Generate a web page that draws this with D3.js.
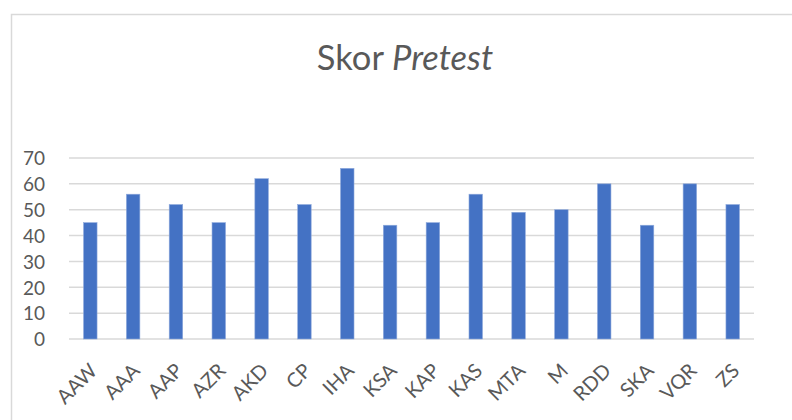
<!DOCTYPE html>
<html>
<head>
<meta charset="utf-8">
<script src="https://cdn.jsdelivr.net/npm/d3@7"></script>
<style>
  body { margin: 0; background: #fff; }
  svg { display: block; font-family: Lato, "Open Sans", sans-serif; }
</style>
</head>
<body>
<div id="chart"></div>
<script>
const names = ["AAW", "AAA", "AAP", "AZR", "AKD", "CP", "IHA", "KSA", "KAP", "KAS", "MTA", "M", "RDD", "SKA", "VQR", "ZS"];
const scores = [45, 56, 52, 45, 62, 52, 66, 44, 45, 56, 49, 50, 60, 44, 60, 52];
const yTicks = [0, 10, 20, 30, 40, 50, 60, 70];

const width = 792, height = 420;
const margin = {top: 158, right: 38, bottom: 81, left: 69};

const svg = d3.select("#chart").append("svg")
  .attr("width", width)
  .attr("height", height);

// chart frame
svg.append("rect")
  .attr("x", 11.5).attr("y", 14.5)
  .attr("width", 800).attr("height", 420)
  .attr("fill", "none")
  .attr("stroke", "#d9d9d9")
  .attr("stroke-width", 1.5);

let title = svg.append("text")
  .attr("x", 405).attr("y", 70)
  .attr("text-anchor", "middle")
  .attr("fill", "#595959")
  .style("font-size", "34.5px");
title.append("tspan").text("Skor ");
title.append("tspan").style("font-style", "italic").text("Pretest");

let x = d3.scaleBand()
  .domain(names)
  .range([margin.left, width - margin.right])
  .paddingInner(0.685)
  .paddingOuter(0.34);

let y = d3.scaleLinear()
  .domain([0, 70])
  .range([height - margin.bottom, margin.top]);

// gridlines
svg.append("g")
  .selectAll("line")
  .data(yTicks)
  .enter().append("line")
  .attr("x1", margin.left)
  .attr("x2", width - margin.right)
  .attr("y1", d => y(d))
  .attr("y2", d => y(d))
  .attr("stroke", "#d9d9d9")
  .attr("stroke-width", 1.5);

let yAxis = svg.append("g")
  .attr("transform", "translate(" + (margin.left - 24) + ",0)")
  .call(d3.axisLeft(y).tickValues(yTicks).tickSize(0).tickPadding(0));
yAxis.select(".domain").remove();
yAxis.selectAll("text")
  .attr("fill", "#595959")
  .attr("dy", "0.36em")
  .style("font-size", "19px")
  .style("font-family", "Lato, sans-serif");

svg.append("g")
  .selectAll("rect")
  .data(names)
  .enter().append("rect")
  .attr("x", d => x(d))
  .attr("width", x.bandwidth())
  .attr("y", (d, i) => y(scores[i]))
  .attr("height", (d, i) => y(0) - y(scores[i]))
  .attr("fill", "#4472c4")
  .attr("stroke", "#8faadc")
  .attr("stroke-width", 0.6);

let xAxis = svg.append("g")
  .attr("transform", "translate(0," + y(0) + ")")
  .call(d3.axisBottom(x).tickSize(0).tickPadding(0));
xAxis.select(".domain").remove();
xAxis.selectAll("text")
  .attr("fill", "#595959")
  .attr("text-anchor", "end")
  .attr("dy", 0)
  .attr("transform", "translate(8,33) rotate(-45)")
  .style("font-size", "20px")
  .style("font-family", "Lato, sans-serif");
</script>
</body>
</html>
